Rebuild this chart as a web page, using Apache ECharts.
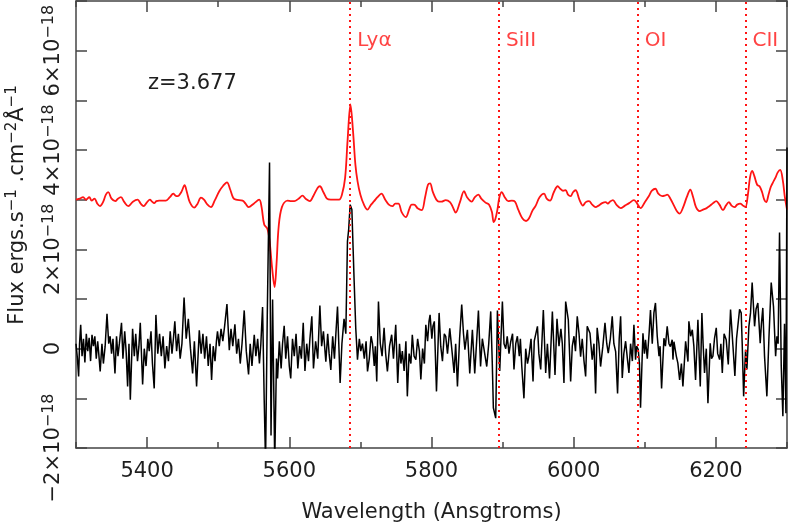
<!DOCTYPE html>
<html><head><meta charset="utf-8">
<script src="https://cdn.jsdelivr.net/npm/echarts@6/dist/echarts.min.js"></script>
<style>html,body{margin:0;padding:0;background:#fff}#c{width:789px;height:530px}</style>
</head><body><div id="c"></div>
<script>
// Observed (black) spectrum, flux in units of 1e-18 erg/s/cm2/A
const blackWave = [
5300,5302,5303.7,5305,5306.6,5308.5,5310.5,5312.5,5314.5,5316.5,5318.5,5320.5,5322.5,5324.5,5326.5,5328.5,5330.5,5332,5334,5336.5,
5338.5,5341,5343.6,5346,5348,5350,5352,5354.8,5357,5359,5361,5364,5366,5368.5,5370.5,5372.6,5374.5,5376.4,5379.6,5382,
5384,5386.5,5388.5,5390.4,5393.7,5396,5398.5,5401,5403,5405.5,5407.5,5410,5412.4,5415,5417.5,5420,5422.5,5425,5427.5,5430,
5432.5,5435,5437,5439,5441.5,5444,5446.5,5449,5452,5455,5458,5461,5464,5466.5,5469.6,5473.4,5476,5478.5,5481,5483.5,
5486,5488.5,5490.7,5493,5495.5,5497.5,5499,5501.5,5504,5506.5,5509,5512.3,5515.6,5518,5520.5,5523.5,5526,5528.5,5531,5533.5,
5536.6,5539.5,5542.7,5545,5547.5,5550.7,5553,5555.5,5558,5560,5562.4,5564.7,5566.6,5569,5572.2,5574.3,5576.5,5579.5,5582,5583.5,
5586,5588.5,5590.5,5592.8,5595,5597.5,5600,5602,5604.5,5607,5609.5,5612,5614.5,5617,5619.6,5622,5624.5,5627,5629,5631.7,
5634,5637,5640,5643,5645.5,5648,5651.4,5654,5656,5658.4,5661,5663.5,5665.5,5667.8,5671.5,5674,5677,5679.5,5681.8,5683.5,
5685.6,5688,5691.2,5693.5,5695.9,5698.5,5700.5,5702.9,5705.5,5708,5710,5712.5,5715,5717,5719.5,5721,5723,5725.4,5728,5730.5,
5733.3,5735.5,5738,5741,5744,5746.5,5749.7,5752.5,5755,5757,5759,5761.5,5764,5766,5768.5,5771,5773,5775.5,5778,5780.5,
5783,5785,5787.5,5790,5792,5794.5,5796.5,5798,5800.5,5802,5804,5807,5810.7,5813,5815.4,5818,5820,5822.5,5825.7,5828.5,
5831.8,5834,5836.5,5839.5,5842.5,5845,5847,5850.5,5853.8,5857.5,5860.8,5863.5,5866,5869,5871.5,5874,5877.7,5880.5,5883.3,5885.5,
5887,5890.3,5892.7,5896,5899.7,5902,5904.4,5906.5,5909,5911.4,5914,5916,5918.5,5920.8,5923.5,5925,5927,5930,5932.5,5935,
5937,5940,5942.8,5944.5,5946.5,5949,5951,5953.6,5957.3,5960.6,5963,5966,5970,5973.7,5976.5,5979.3,5982,5984,5986.3,5988.7,
5992.4,5995.7,5998,6000.4,6002.5,6005,6007.5,6009.7,6012,6014.5,6016.8,6019,6022.9,6026,6028.5,6030.8,6033,6035.5,6037.8,6041,
6044,6046.5,6048.6,6051.5,6054.2,6056.5,6059,6061.7,6064,6066,6068.3,6070.5,6073,6075.5,6077.7,6080,6082.5,6084.7,6087,6088.5,
6090.8,6092.5,6094,6097.4,6099.5,6101,6103.5,6106,6108,6110.5,6112.8,6115,6117.5,6120,6121.5,6123.6,6126.9,6129,6131.5,6134,
6136,6138.5,6139.6,6141,6144.3,6146.5,6149,6151.5,6153.6,6157.4,6160.7,6162,6164.5,6166.8,6169,6171.4,6174.7,6178,6180.3,6182,
6184,6186.5,6188.8,6192,6193.8,6195.8,6198,6200.5,6202.5,6205.2,6207,6209,6211.5,6214.5,6217.4,6220.6,6224,6226.7,6229,6231,
6233.3,6235.6,6237,6239,6241.7,6243.6,6246.4,6248.7,6251,6254.4,6256.5,6259,6262.3,6264,6266,6268.4,6271.7,6274.5,6277.8,6281,
6284,6285.8,6287.5,6289.5,6291.9,6294.2,6296.5,6298.5,6300
];
const blackFlux = [
0.10,-0.20,-0.56,0.10,0.48,-0.15,0.20,-0.28,0.30,-0.05,0.22,-0.25,0.28,0.05,0.25,-0.20,0.15,-0.10,-0.46,0.10,
-0.30,0.05,0.70,0.10,0.25,-0.10,0.20,-0.50,0.25,-0.15,0.10,0.52,-0.20,0.35,-0.05,-0.76,0.10,-1.03,0.40,-0.15,
0.30,-0.25,0.05,0.52,-0.72,0.00,-0.35,0.20,-0.05,0.35,-0.30,-0.80,0.68,-0.10,0.30,-0.15,0.25,-0.40,0.05,-0.25,
0.35,-0.10,0.20,0.55,-0.05,0.30,-0.20,0.10,1.03,0.20,0.60,0.00,-0.50,0.15,-0.76,0.37,-0.10,0.30,-0.20,0.25,
-0.35,0.10,-0.63,0.05,-0.25,0.15,0.35,0.05,0.40,0.15,0.45,0.90,-0.03,0.40,0.05,0.49,-0.10,0.20,-0.30,0.10,
0.77,-0.05,-0.52,0.10,-0.35,0.28,-0.15,0.20,-0.30,0.10,0.84,-1.03,-2.30,0.65,3.75,-1.75,0.99,-2.30,-0.20,-0.60,
0.15,-0.40,0.10,0.46,-0.20,0.25,-0.35,-0.60,0.20,-0.15,0.30,-0.40,0.05,-0.20,0.52,-0.45,0.10,-0.25,0.20,0.65,
-0.40,0.15,-0.20,0.87,0.05,0.35,-0.26,0.30,-0.10,-0.43,0.25,-0.20,0.30,0.85,-0.69,0.10,0.60,0.30,2.16,2.40,
2.90,2.80,1.36,0.40,-0.22,0.20,-0.05,0.10,-0.20,0.15,-0.46,-0.20,0.25,0.10,-0.35,0.05,-0.66,0.95,0.10,-0.15,
0.42,-0.10,-0.46,0.05,0.28,-0.20,0.48,-0.69,0.10,-0.30,-0.05,-0.45,0.15,-0.96,-0.10,-0.30,0.28,-0.15,-0.22,0.20,
-0.05,-0.62,0.00,-0.30,0.48,0.15,0.55,0.68,0.20,0.45,0.55,-0.86,0.72,0.05,-0.25,0.30,0.25,-0.10,0.41,0.00,
-0.49,0.10,-0.76,0.20,0.89,0.30,-0.02,0.38,-0.50,0.38,-0.50,0.15,0.77,-0.36,0.20,0.18,-0.36,0.10,0.75,-0.30,
-1.19,-1.40,0.77,-0.45,0.95,0.10,0.00,0.25,-0.10,0.14,0.30,-0.42,0.10,0.25,-0.15,0.20,-0.36,-1.00,0.00,-0.30,
-0.15,0.20,-0.66,0.15,0.11,0.45,-0.10,-0.42,0.78,-0.49,0.10,-0.60,0.75,-0.53,0.60,0.05,0.40,0.10,-0.69,0.95,
0.58,-0.66,0.05,0.25,-0.05,0.65,0.30,-0.16,0.20,-0.25,-0.56,0.45,0.31,-0.22,0.10,-0.90,0.42,0.10,-0.36,0.05,
0.52,0.10,-0.09,0.20,0.65,0.10,-0.06,-0.90,0.20,0.65,-0.59,-0.10,0.15,-0.20,-0.49,0.10,-0.25,0.48,-0.22,0.05,
-0.02,-0.30,-1.19,0.31,-0.10,0.18,-0.20,0.30,0.78,0.10,0.72,0.92,0.25,-0.15,0.05,-0.80,0.21,0.05,0.45,0.10,
0.04,0.18,-0.22,0.14,-0.15,-0.29,-0.63,-0.30,-0.76,0.15,-0.26,0.55,0.25,0.38,0.05,-0.63,0.58,-0.76,0.72,0.10,
-0.49,0.00,-1.10,0.11,-0.20,-0.15,0.20,0.42,-0.10,-0.22,0.10,-0.49,0.30,0.18,-0.32,0.79,0.05,-0.55,0.20,0.18,
0.79,0.72,0.10,-0.96,-0.02,-0.42,0.45,0.72,1.33,0.45,0.80,0.92,0.11,0.50,0.82,-0.15,-0.96,0.18,1.33,0.85,
-0.15,0.25,0.10,2.34,-0.35,-1.36,0.50,-1.30,4.05
];
// Smoothed spectrum shifted by +3e-18 (red)
const redWave = [
5300,5305,5310,5314,5318.7,5322,5326,5330,5333.7,5338,5342,5345.4,5350,5355.3,5359,5363.2,5368,5373.5,5380,5386.7,
5391,5395,5400,5404,5407,5410,5413,5417,5426.5,5432,5436.8,5440,5443,5448,5452.7,5456,5460,5466.3,5471,5475.7,
5480,5485,5489.8,5495,5501.5,5507,5512.3,5517,5521,5525,5534.3,5538.5,5542.7,5550,5557.7,5561,5564.7,5569,5572,5576,
5579.3,5582,5585,5589.6,5597.5,5603,5607,5613,5618.6,5623,5628.9,5634,5640,5643,5648,5653,5658.4,5664,5670,5674,
5678.5,5682,5686,5689.5,5693,5696,5700,5705,5709.9,5715,5719.3,5724,5729.6,5735,5740,5745,5749,5753.5,5758,5763.8,
5769,5772,5775.5,5781,5786.3,5791,5795,5798,5802,5808.8,5814,5820,5826,5830,5834,5840,5845.8,5850,5856.6,5861,
5866,5870,5876,5881,5885,5887.5,5890,5892.7,5895.5,5898.8,5903,5908,5913,5917.5,5922,5928,5933,5937,5942,5946.6,
5952,5958.3,5962,5966.7,5972,5977.5,5981,5985,5988.7,5992,5995.7,5999,6002.7,6008,6013,6017,6021.5,6026,6030.8,6035,
6040,6044.9,6048,6051,6055.2,6060,6066,6072,6078,6084.7,6088,6091,6094,6100,6106,6110,6115,6119,6124.5,6128,
6131.5,6136,6141,6146,6149,6154,6159,6164,6168,6172,6177,6182,6187,6191,6196,6200.5,6205,6210,6214,6218.3,
6222,6226.3,6230,6234.2,6238,6241.5,6245,6248,6251,6254,6258,6261.4,6265,6268,6270.8,6274,6277,6280,6284,6287,
6290.4,6294,6297,6300
];
const redFlux = [
3.00,3.02,3.05,3.00,3.05,2.98,3.02,2.92,2.87,2.95,3.10,3.15,3.02,2.97,3.02,3.05,2.95,2.87,2.96,3.00,
2.92,2.87,2.95,3.00,2.96,2.93,2.97,2.98,2.98,3.05,3.12,3.08,3.07,3.15,3.29,3.15,2.95,2.84,2.92,3.04,
3.00,2.90,2.85,2.98,3.17,3.28,3.35,3.20,3.04,3.00,2.98,2.92,2.85,2.92,3.00,2.85,2.50,2.42,2.20,1.60,
1.24,1.70,2.45,2.85,2.98,2.97,2.97,3.02,3.08,3.02,2.97,3.08,3.24,3.27,3.15,3.02,3.00,3.00,3.00,3.10,
3.44,4.20,4.92,4.40,3.70,3.37,3.10,2.90,2.80,2.90,2.97,3.05,3.12,3.00,2.90,2.87,2.92,2.92,2.75,2.65,
2.82,2.90,2.90,2.82,2.79,3.05,3.30,3.33,3.15,2.97,2.96,2.99,2.95,2.85,2.74,2.95,3.17,3.05,2.96,3.05,
3.10,3.02,2.94,2.90,2.75,2.55,2.62,2.80,3.05,3.15,3.05,2.97,2.98,2.96,2.80,2.62,2.57,2.62,2.78,2.88,
3.05,3.12,3.02,2.98,3.15,3.27,3.22,3.18,3.19,3.10,3.07,3.15,3.19,3.00,2.88,2.95,2.97,2.90,2.85,2.88,
2.93,2.95,2.92,2.96,2.99,2.90,2.83,2.88,2.93,2.99,2.95,2.88,2.83,2.95,3.08,3.18,3.22,3.12,3.07,3.08,
3.10,3.02,2.88,2.75,2.72,2.85,3.05,3.20,3.05,2.85,2.77,2.80,2.83,2.87,2.93,2.97,2.90,2.79,2.88,2.95,
2.88,2.85,2.90,2.92,2.88,2.85,3.10,3.45,3.58,3.48,3.30,3.27,3.15,3.00,2.95,3.10,3.25,3.34,3.45,3.55,
3.60,3.40,3.05,2.80
];
// Emission/absorption line identifications at z = 3.677
const lineWave = [5685.7, 5895.0, 6090.2, 6241.6];
const lineNames = ['Lyα', 'SiII', 'OI', 'CII'];
const redshiftText = 'z=3.677';
const xLabelValues = [5400, 5600, 5800, 6000, 6200];
const yLabelValues = [-2, 0, 2, 4, 6];
const xTitle = 'Wavelength (Ansgtroms)';

const FONT = 'DejaVu Sans';
const TXT = '#1e1e1e';
const FRAME = '#444';
const RED = '#ff1414';
const labelY = 6.2;

const chart = echarts.init(document.getElementById('c'), null, {renderer: 'canvas'});

function yFmt(v) {
  if (yLabelValues.indexOf(v) < 0) return '';
  if (v === 0) return '{n|0}';
  return '{n|' + (v < 0 ? '−' : '') + Math.abs(v) + '×10}{s|−18}';
}
const yRich = {
  n: {fontFamily: FONT, fontSize: 21, color: TXT, lineHeight: 26},
  s: {fontFamily: FONT, fontSize: 16, color: TXT, lineHeight: 4, verticalAlign: 'top'}
};

function xAxisCfg(pos, showLabel) {
  return {
    type: 'value', min: 5300, max: 6300, interval: 200, position: pos,
    axisLine: {show: true, onZero: false, lineStyle: {color: FRAME, width: 1.5}},
    axisTick: {show: true, inside: true, length: 6, lineStyle: {color: FRAME, width: 1.5}},
    minorTick: {show: true, splitNumber: 2, length: 11, lineStyle: {color: FRAME, width: 1.5}},
    axisLabel: {show: showLabel, customValues: xLabelValues, margin: 13, fontFamily: FONT, fontSize: 21, color: TXT,
      formatter: v => String(v)},
    splitLine: {show: false}, minorSplitLine: {show: false},
    name: showLabel ? xTitle : '', nameLocation: 'middle', nameGap: 54,
    nameTextStyle: {fontFamily: FONT, fontSize: 21, color: TXT}
  };
}
function yAxisCfg(pos, showLabel) {
  return {
    type: 'value', min: -2, max: 7, interval: 1, position: pos,
    axisLine: {show: true, onZero: false, lineStyle: {color: FRAME, width: 1.5}},
    axisTick: {show: true, inside: true, length: 11, lineStyle: {color: FRAME, width: 1.5}},
    axisLabel: {show: showLabel, rotate: 90, margin: 9, formatter: yFmt, rich: yRich},
    splitLine: {show: false}
  };
}

const option = {
  animation: false,
  backgroundColor: '#fff',
  grid: {left: 76, right: 2, top: 1, bottom: 82, containLabel: false, outerBoundsMode: 'none'},
  xAxis: [xAxisCfg('bottom', true), xAxisCfg('top', false)],
  yAxis: [yAxisCfg('left', true), yAxisCfg('right', false)],
  graphic: [
    {type: 'text', left: 148, top: 73, silent: true,
     style: {text: redshiftText, fontFamily: FONT, fontSize: 21, fill: TXT}},
    {type: 'text', x: 18, y: 205, rotation: Math.PI / 2, silent: true,
     style: {text: '{n|Flux ergs.s}{s|−1}{n| .cm}{s|−2}{n|Å}{s|−1}', align: 'center', verticalAlign: 'middle',
       rich: {
         n: {fontFamily: FONT, fontSize: 21, fill: TXT, lineHeight: 26},
         s: {fontFamily: FONT, fontSize: 15, fill: TXT, lineHeight: 2, verticalAlign: 'top'}
       }}}
  ],
  series: [
    {type: 'line', name: 'smoothed', data: redWave.map((w, i) => [w, redFlux[i]]),
     showSymbol: false, symbol: 'none', smooth: 0.35, z: 2,
     lineStyle: {color: RED, width: 1.8}},
    {type: 'line', name: 'observed', data: blackWave.map((w, i) => [w, blackFlux[i]]),
     showSymbol: false, symbol: 'none', sampling: null, z: 3,
     lineStyle: {color: '#000', width: 1.5}},
    {type: 'line', name: 'lines', data: [], z: 4,
     markLine: {silent: true, symbol: ['none', 'none'], label: {show: false},
       lineStyle: {color: RED, type: [2, 4], width: 2},
       data: lineWave.map(w => ({xAxis: w}))}},
    {type: 'scatter', name: 'labels', data: lineWave.map((w, i) => [w, labelY, lineNames[i]]),
     symbolSize: 0, z: 5, silent: true,
     label: {show: true, position: 'right', distance: 7, formatter: p => p.data[2],
       fontFamily: FONT, fontSize: 20, color: RED}}
  ]
};
chart.setOption(option);
</script></body></html>
